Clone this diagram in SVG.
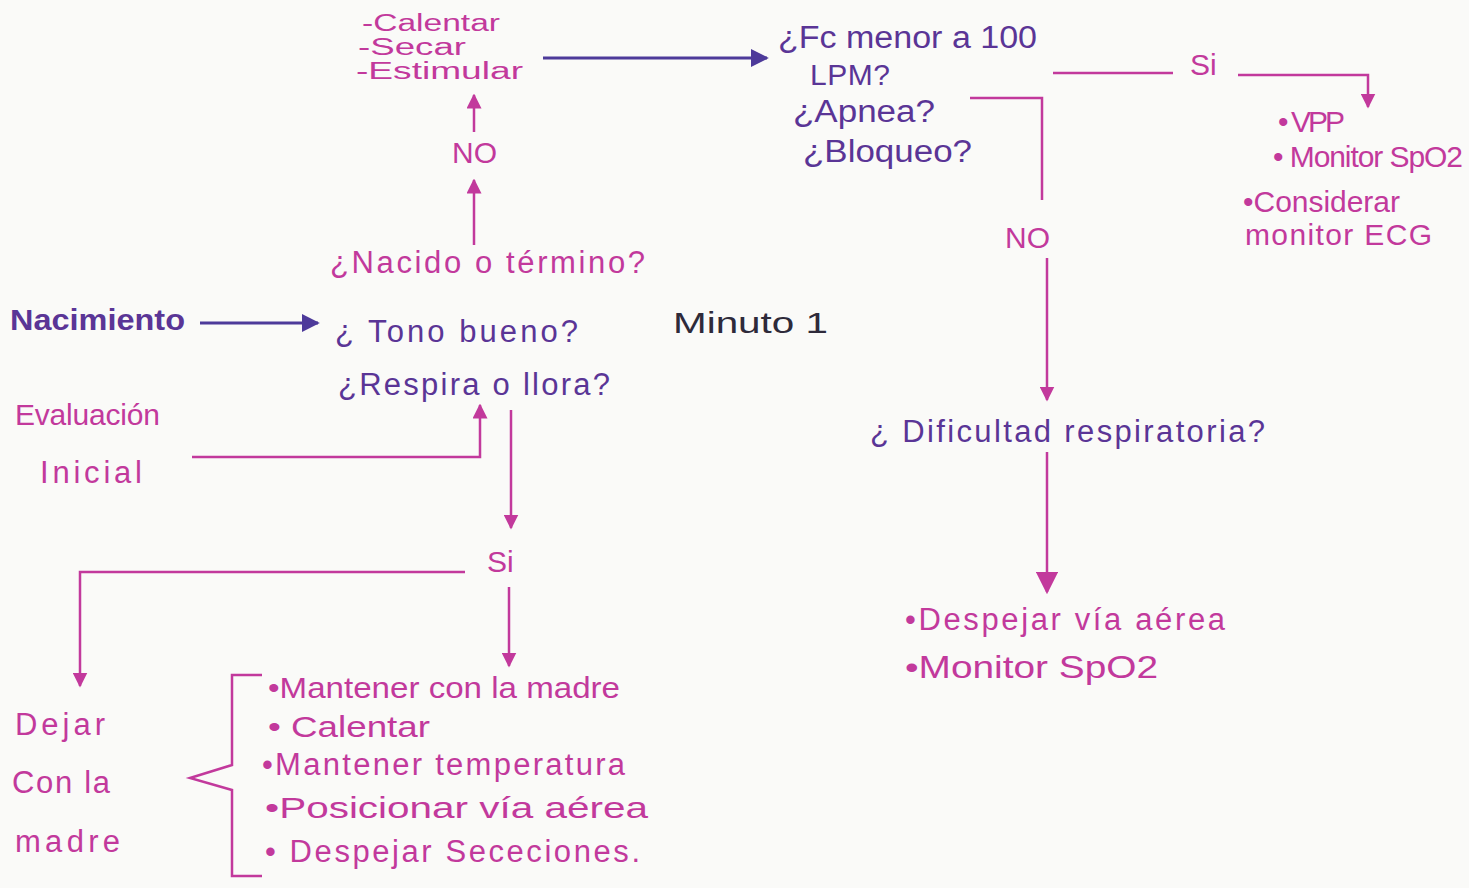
<svg xmlns="http://www.w3.org/2000/svg" width="1469" height="888" viewBox="0 0 1469 888">
<defs>
<style>
.t{font-family:"Liberation Sans","Noto Sans",sans-serif;font-size:30px;}
.s{font-size:23px;}
.b{font-size:31px;}
.m{fill:#c2399c;}
.p{fill:#5a3596;}
.k{fill:#2e2a3a;}
.lm{stroke:#c2399c;stroke-width:2.5;fill:none;}
.lp{stroke:#4d3a9a;stroke-width:3;fill:none;}
</style>
<marker id="am" viewBox="0 0 10 10" refX="9" refY="5" markerWidth="6" markerHeight="6" orient="auto" markerUnits="strokeWidth"><path d="M0,0 L10,5 L0,10 z" fill="#c2399c"/></marker>
<marker id="ap" viewBox="0 0 10 10" refX="9" refY="5" markerWidth="6" markerHeight="6" orient="auto" markerUnits="strokeWidth"><path d="M0,0 L10,5 L0,10 z" fill="#4d3a9a"/></marker>
<marker id="aL" viewBox="0 0 10 10" refX="9" refY="5" markerWidth="9" markerHeight="9" orient="auto" markerUnits="strokeWidth"><path d="M0,0 L10,5 L0,10 z" fill="#c2399c"/></marker>
</defs>
<rect width="1469" height="888" fill="#fafaf8"/>

<g id="connectors">
<path class="lp" d="M543,58 L767,58" marker-end="url(#ap)"/>
<path class="lm" d="M1053,73 L1173,73"/>
<path class="lm" d="M1238,75 L1368,75 L1368,107" marker-end="url(#am)"/>
<path class="lm" d="M970,98 L1042,98 L1042,200"/>
<path class="lm" d="M1047,258 L1047,400" marker-end="url(#am)"/>
<path class="lm" d="M1047,452 L1047,592" marker-end="url(#aL)"/>
<path class="lm" d="M474,132 L474,95" marker-end="url(#am)"/>
<path class="lm" d="M474,245 L474,180" marker-end="url(#am)"/>
<path class="lp" d="M200,323 L318,323" marker-end="url(#ap)"/>
<path class="lm" d="M192,457 L480,457 L480,405" marker-end="url(#am)"/>
<path class="lm" d="M511,410 L511,528" marker-end="url(#am)"/>
<path class="lm" d="M465,572 L80,572 L80,686" marker-end="url(#am)"/>
<path class="lm" d="M509,587 L509,666" marker-end="url(#am)"/>
<path class="lm" d="M262,675 L232,675 L232,765 L190,778 L232,790 L232,876 L262,876"/>
</g>

<g id="estimular" lengthAdjust="spacingAndGlyphs"><text class="t s m" x="362" y="31" textLength="138" lengthAdjust="spacingAndGlyphs">-Calentar</text><text class="t s m" x="358" y="55" textLength="108" lengthAdjust="spacingAndGlyphs">-Secar</text><text class="t s m" x="356" y="79" textLength="167" lengthAdjust="spacingAndGlyphs">-Estimular</text></g>
<g id="fc"><text class="t b p" x="778" y="48" textLength="259" lengthAdjust="spacingAndGlyphs">¿Fc menor a 100</text><text class="t p" x="810" y="85" textLength="80">LPM?</text><text class="t b p" x="793" y="122" textLength="142" lengthAdjust="spacingAndGlyphs">¿Apnea?</text><text class="t b p" x="803" y="162" textLength="169" lengthAdjust="spacingAndGlyphs">¿Bloqueo?</text></g>
<g id="si-top"><text class="t m" x="1190" y="75">Si</text></g>
<g id="vpp"><text class="t m" x="1278" y="132" textLength="67" font-size="27">• VPP</text><text class="t m" x="1273" y="167" textLength="190" font-size="27">• Monitor SpO2</text><text class="t m" x="1243" y="212" textLength="157" font-size="28">•Considerar</text><text class="t m" x="1245" y="245" textLength="187" font-size="28">monitor ECG</text></g>
<g id="no-right"><text class="t m" x="1005" y="248">NO</text></g>
<g id="no-left"><text class="t m" x="452" y="163">NO</text></g>
<g id="nacido"><text class="t b m" x="330" y="273" textLength="315">¿Nacido o término?</text></g>
<g id="nacimiento"><text class="t p" x="10" y="330" textLength="175" font-weight="bold" lengthAdjust="spacingAndGlyphs">Nacimiento</text></g>
<g id="tono"><text class="t b p" x="335" y="342" textLength="243">¿ Tono bueno?</text><text class="t b p" x="338" y="395" textLength="272">¿Respira o llora?</text></g>
<g id="minuto"><text class="t k" x="673" y="333" font-size="38" textLength="155" lengthAdjust="spacingAndGlyphs">Minuto 1</text></g>
<g id="dificultad"><text class="t b p" x="870" y="442" textLength="395">¿ Dificultad respiratoria?</text></g>
<g id="evaluacion"><text class="t m" x="15" y="425" textLength="145">Evaluación</text><text class="t b m" x="40" y="483" textLength="102">Inicial</text></g>
<g id="si-bottom"><text class="t m" x="487" y="572">Si</text></g>
<g id="dejar"><text class="t b m" x="15" y="735" textLength="90">Dejar</text><text class="t b m" x="12" y="793" textLength="98">Con la</text><text class="t b m" x="15" y="852" textLength="105">madre</text></g>
<g id="mantener"><text class="t m" x="268" y="698" textLength="352" lengthAdjust="spacingAndGlyphs">•Mantener con la madre</text><text class="t m" x="268" y="737" textLength="162" lengthAdjust="spacingAndGlyphs">• Calentar</text><text class="t b m" x="262" y="775" textLength="363">•Mantener temperatura</text><text class="t m" x="265" y="818" textLength="383" lengthAdjust="spacingAndGlyphs">•Posicionar vía aérea</text><text class="t b m" x="265" y="862" textLength="375">• Despejar Sececiones.</text></g>
<g id="despejar"><text class="t b m" x="905" y="630" textLength="320">•Despejar vía aérea</text><text class="t b m" x="905" y="678" textLength="253" lengthAdjust="spacingAndGlyphs">•Monitor SpO2</text></g>
</svg>
